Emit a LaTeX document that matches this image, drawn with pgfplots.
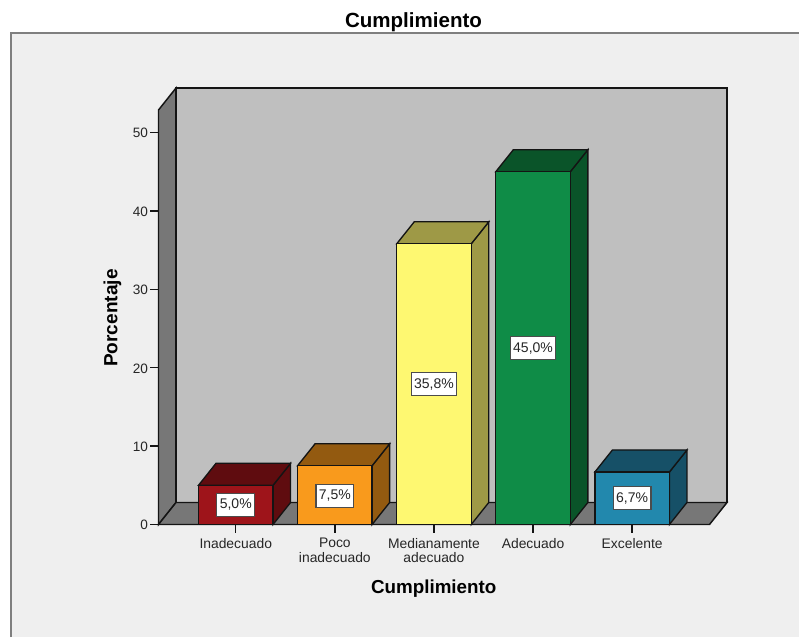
\documentclass[border=0pt]{standalone}
\usepackage{fontspec}
\setmainfont{Liberation Sans}
\usepackage{pgfplots}
\pgfplotsset{compat=1.18}
\definecolor{panel}{HTML}{EFEFEF}
\definecolor{frameg}{HTML}{7F7F7F}
\definecolor{wall}{HTML}{BFBFBF}
\definecolor{floorg}{HTML}{777777}
\definecolor{edge}{HTML}{141414}
\definecolor{redF}{HTML}{9E141A}\definecolor{redD}{HTML}{5F0C0F}
\definecolor{oraF}{HTML}{F99A1C}\definecolor{oraD}{HTML}{935A10}
\definecolor{yelF}{HTML}{FEF871}\definecolor{yelD}{HTML}{9E9946}
\definecolor{greF}{HTML}{0F8C47}\definecolor{greD}{HTML}{0A5429}
\definecolor{bluF}{HTML}{2288AD}\definecolor{bluD}{HTML}{165067}
\tikzset{
  valbox/.style={fill=white,draw=black!70,line width=0.85pt,inner xsep=2.2pt,inner ysep=0pt,
    minimum height=17.5pt,font=\fontsize{10.5}{12}\selectfont,text=black!85}
}
\begin{document}
\begin{tikzpicture}
\useasboundingbox (0,0) rectangle (599.25pt,477.75pt);
\fill[white] (0,0) rectangle (599.25pt,477.75pt);
\fill[panel] (8.25pt,0) rectangle (599.25pt,453pt);
\draw[frameg,line width=1.1pt] (8.25pt,0) -- (8.25pt,453pt) -- (599.25pt,453pt);
\begin{axis}[
  at={(118.875pt,84.375pt)},anchor=south west,
  scale only axis,width=413.25pt,height=310.875pt,
  xmin=-0.7795,xmax=4.7805,ymin=0,ymax=52.87,
  clip=false,
  axis x line*=bottom,axis y line*=left,
  axis line style={edge,line width=1.1pt},
  tick style={edge,line width=1.1pt},
  tick align=outside,
  major tick length=6.2pt,
  xtick={0,1,2,3,4},
  xticklabels={Inadecuado,Poco\\inadecuado,Medianamente\\adecuado,Adecuado,Excelente},
  ytick={0,10,20,30,40,50},
  /pgf/number format/assume math mode=true,
  xticklabel style={align=center,font=\fontsize{10.4}{10.8}\selectfont,text=black!85,inner ysep=2pt,yshift=-1.9pt},
  yticklabel style={font=\fontsize{10.2}{12}\selectfont,text=black!85,inner xsep=1.5pt,yshift=-0.5pt},
  title={\bfseries Cumplimiento},
  title style={at={(axis description cs:0.4628,1.193)},anchor=center,yshift=0pt,font=\fontsize{15.4}{18}\selectfont},
  xlabel={\bfseries Cumplimiento},
  xlabel style={at={(axis description cs:0.4995,-0.1556)},anchor=center,font=\fontsize{14.1}{16}\selectfont},
  ylabel={\bfseries Porcentaje},
  ylabel style={at={(axis description cs:-0.0835,0.498)},anchor=center,rotate=0,font=\fontsize{14.3}{16}\selectfont},
]
% walls and floor
\addplot[fill=floorg,draw=edge,line width=1.1pt] coordinates {(-0.7795,0) (-0.7795,52.87) (-0.603,55.676) (-0.603,2.806)} -- cycle;
\addplot[fill=wall,draw=edge,line width=1.1pt] coordinates {(-0.603,2.806) (4.957,2.806) (4.957,55.676) (-0.603,55.676)} -- cycle;
\addplot[fill=floorg,draw=edge,line width=1.1pt] coordinates {(-0.7795,0) (4.7805,0) (4.957,2.806) (-0.603,2.806)} -- cycle;
% Inadecuado
\addplot[fill=redD,draw=edge,line width=1pt] coordinates {(0.376,0) (0.553,2.806) (0.553,7.806) (0.376,5.0)} -- cycle;
\addplot[fill=redD,draw=edge,line width=1pt] coordinates {(-0.376,5.0) (0.376,5.0) (0.553,7.806) (-0.199,7.806)} -- cycle;
\addplot[ybar,bar shift=0pt,bar width=55.9pt,fill=redF,draw=edge,line width=1pt] coordinates {(0,5.0)};
% Poco inadecuado
\addplot[fill=oraD,draw=edge,line width=1pt] coordinates {(1.376,0) (1.553,2.806) (1.553,10.306) (1.376,7.5)} -- cycle;
\addplot[fill=oraD,draw=edge,line width=1pt] coordinates {(0.624,7.5) (1.376,7.5) (1.553,10.306) (0.801,10.306)} -- cycle;
\addplot[ybar,bar shift=0pt,bar width=55.9pt,fill=oraF,draw=edge,line width=1pt] coordinates {(1,7.5)};
% Medianamente adecuado
\addplot[fill=yelD,draw=edge,line width=1pt] coordinates {(2.376,0) (2.553,2.806) (2.553,38.606) (2.376,35.8)} -- cycle;
\addplot[fill=yelD,draw=edge,line width=1pt] coordinates {(1.624,35.8) (2.376,35.8) (2.553,38.606) (1.801,38.606)} -- cycle;
\addplot[ybar,bar shift=0pt,bar width=55.9pt,fill=yelF,draw=edge,line width=1pt] coordinates {(2,35.8)};
% Adecuado
\addplot[fill=greD,draw=edge,line width=1pt] coordinates {(3.376,0) (3.553,2.806) (3.553,47.806) (3.376,45.0)} -- cycle;
\addplot[fill=greD,draw=edge,line width=1pt] coordinates {(2.624,45.0) (3.376,45.0) (3.553,47.806) (2.801,47.806)} -- cycle;
\addplot[ybar,bar shift=0pt,bar width=55.9pt,fill=greF,draw=edge,line width=1pt] coordinates {(3,45.0)};
% Excelente
\addplot[fill=bluD,draw=edge,line width=1pt] coordinates {(4.376,0) (4.553,2.806) (4.553,9.506) (4.376,6.7)} -- cycle;
\addplot[fill=bluD,draw=edge,line width=1pt] coordinates {(3.624,6.7) (4.376,6.7) (4.553,9.506) (3.801,9.506)} -- cycle;
\addplot[ybar,bar shift=0pt,bar width=55.9pt,fill=bluF,draw=edge,line width=1pt] coordinates {(4,6.7)};
% value labels
\node[valbox] at (axis cs:0,2.5) {5,0\%};
\node[valbox] at (axis cs:1,3.65) {7,5\%};
\node[valbox] at (axis cs:2,17.9) {35,8\%};
\node[valbox] at (axis cs:3,22.5) {45,0\%};
\node[valbox] at (axis cs:4,3.35) {6,7\%};
\end{axis}
\end{tikzpicture}
\end{document}
